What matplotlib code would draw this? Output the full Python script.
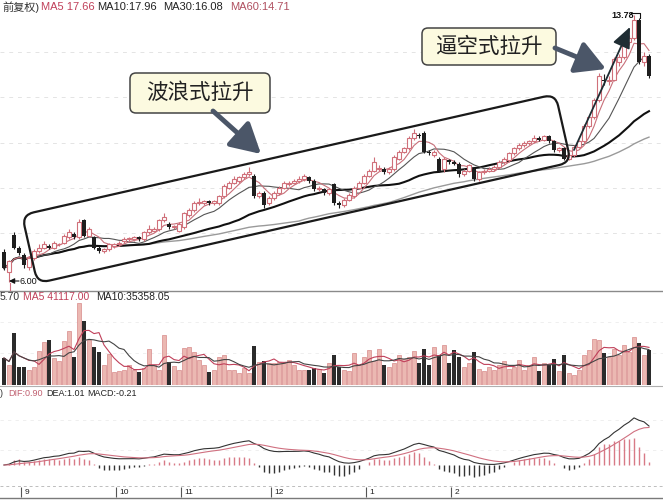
import numpy as np
import pandas as pd
import matplotlib
matplotlib.use("Agg")
import matplotlib.pyplot as plt
from matplotlib.patches import FancyBboxPatch
from matplotlib.transforms import Affine2D

plt.rcParams['font.family'] = ['Liberation Sans', 'Noto Sans CJK SC', 'DejaVu Sans']

# ---------------- data ----------------
opens = [6.87, 6.30, 7.37, 7.00, 6.80, 6.45, 6.70, 6.90, 7.00, 7.05,
         7.00, 7.10, 7.15, 7.30, 7.40, 7.30, 7.80, 7.35, 7.30, 7.00,
         6.90, 6.95, 7.05, 7.10, 7.20, 7.25, 7.25, 7.30, 7.25, 7.45,
         7.50, 7.55, 7.80, 7.70, 7.60, 7.50, 7.60, 7.95, 8.10, 8.30,
         8.30, 8.35, 8.30, 8.30, 8.50, 8.75, 8.90, 8.95, 9.05, 9.15,
         9.10, 8.50, 8.60, 8.30, 8.45, 8.60, 8.75, 8.85, 8.90, 8.95,
         9.00, 9.05, 8.95, 8.70, 8.70, 8.60, 8.85, 8.30, 8.25, 8.40,
         8.50, 8.75, 8.90, 9.10, 9.25, 9.30, 9.30, 9.20, 9.30, 9.60,
         9.80, 9.90, 10.20, 10.30, 10.35, 9.80, 9.70, 9.60, 9.30, 9.55,
         9.50, 9.45, 9.15, 9.25, 9.30, 9.00, 9.20, 9.25, 9.30, 9.35,
         9.50, 9.55, 9.75, 9.90, 10.00, 10.05, 10.10, 10.20, 10.15, 10.25,
         10.10, 9.85, 9.90, 9.60, 9.70, 9.95, 10.10, 10.55, 10.80, 11.30,
         11.90, 11.85, 11.90, 12.40, 12.55, 13.00, 13.10, 13.65, 12.40, 12.60]
closes = [6.41, 6.60, 7.00, 6.85, 6.50, 6.70, 6.90, 7.00, 7.10, 7.00,
          7.15, 7.10, 7.35, 7.45, 7.30, 7.75, 7.35, 7.55, 7.00, 6.90,
          6.95, 7.10, 7.10, 7.15, 7.25, 7.25, 7.30, 7.25, 7.45, 7.55,
          7.55, 7.80, 7.90, 7.60, 7.60, 7.70, 8.00, 8.10, 8.30, 8.30,
          8.35, 8.30, 8.35, 8.50, 8.80, 8.90, 9.00, 9.05, 9.15, 9.20,
          8.50, 8.60, 8.25, 8.45, 8.60, 8.75, 8.90, 8.90, 8.95, 9.00,
          9.10, 8.95, 8.70, 8.75, 8.60, 8.70, 8.30, 8.25, 8.40, 8.55,
          8.75, 8.90, 9.10, 9.25, 9.50, 9.30, 9.20, 9.30, 9.65, 9.80,
          9.90, 10.20, 10.35, 10.25, 9.80, 9.75, 9.80, 9.25, 9.60, 9.50,
          9.45, 9.15, 9.25, 9.40, 9.00, 9.20, 9.25, 9.30, 9.35, 9.50,
          9.60, 9.75, 9.90, 10.00, 10.05, 10.10, 10.20, 10.15, 10.25, 10.10,
          9.85, 9.90, 9.60, 9.70, 9.95, 10.10, 10.55, 10.80, 11.30, 12.00,
          11.85, 11.90, 12.50, 12.55, 13.00, 13.10, 13.65, 12.40, 12.60, 12.00]
highs = [6.95, 6.65, 7.45, 7.05, 6.85, 6.75, 6.95, 7.10, 7.20, 7.10,
         7.20, 7.15, 7.40, 7.55, 7.45, 7.85, 7.85, 7.60, 7.35, 7.05,
         7.00, 7.15, 7.15, 7.20, 7.30, 7.30, 7.35, 7.35, 7.50, 7.65,
         7.60, 7.85, 8.00, 7.75, 7.65, 7.75, 8.05, 8.15, 8.35, 8.45,
         8.40, 8.40, 8.40, 8.55, 8.85, 8.95, 9.10, 9.10, 9.20, 9.35,
         9.15, 8.65, 8.65, 8.50, 8.65, 8.80, 8.95, 8.95, 9.00, 9.10,
         9.15, 9.10, 9.00, 8.80, 8.75, 8.75, 8.90, 8.35, 8.45, 8.60,
         8.80, 8.95, 9.15, 9.30, 9.65, 9.40, 9.35, 9.35, 9.70, 9.85,
         9.95, 10.25, 10.45, 10.35, 10.40, 9.85, 9.85, 9.65, 9.65, 9.60,
         9.55, 9.50, 9.30, 9.45, 9.35, 9.25, 9.30, 9.35, 9.40, 9.55,
         9.65, 9.80, 9.95, 10.05, 10.10, 10.15, 10.30, 10.25, 10.30, 10.30,
         10.15, 9.95, 9.95, 9.75, 10.00, 10.15, 10.60, 10.85, 11.35, 12.10,
         12.05, 12.00, 12.55, 12.65, 13.05, 13.20, 13.78, 13.70, 12.70, 12.65]
lows = [6.35, 6.00, 6.95, 6.80, 6.40, 6.35, 6.65, 6.85, 6.95, 6.95,
        6.95, 7.05, 7.10, 7.25, 7.25, 7.25, 7.30, 7.30, 6.95, 6.85,
        6.85, 6.90, 7.00, 7.05, 7.15, 7.20, 7.20, 7.20, 7.20, 7.40,
        7.45, 7.50, 7.75, 7.55, 7.55, 7.45, 7.55, 7.90, 8.05, 8.25,
        8.25, 8.25, 8.25, 8.25, 8.45, 8.70, 8.85, 8.90, 9.00, 9.10,
        8.45, 8.45, 8.15, 8.25, 8.40, 8.55, 8.70, 8.80, 8.85, 8.90,
        8.95, 8.90, 8.65, 8.65, 8.55, 8.55, 8.25, 8.15, 8.20, 8.35,
        8.45, 8.70, 8.85, 9.05, 9.20, 9.25, 9.15, 9.15, 9.25, 9.55,
        9.75, 9.85, 10.15, 10.20, 9.75, 9.70, 9.65, 9.20, 9.20, 9.45,
        9.40, 9.05, 9.10, 9.20, 8.95, 8.95, 9.15, 9.20, 9.25, 9.30,
        9.45, 9.50, 9.70, 9.85, 9.95, 10.00, 10.05, 10.10, 10.10, 10.05,
        9.80, 9.80, 9.55, 9.55, 9.65, 9.90, 10.05, 10.50, 10.75, 11.25,
        11.75, 11.75, 11.85, 12.30, 12.50, 12.90, 13.05, 12.35, 12.30, 11.95]
volumes = [33800, 25000, 65000, 22500, 22500, 18800, 22500, 42500, 53800, 56300,
           33800, 30000, 55000, 67500, 35000, 102500, 80000, 56300, 47500, 41300,
           25000, 38800, 16300, 17500, 18800, 25000, 18800, 16300, 21300, 45000,
           25000, 18800, 62500, 28800, 23800, 18800, 46300, 47500, 41300, 31300,
           25000, 16300, 18800, 35000, 37500, 18800, 18800, 15000, 21300, 15000,
           48800, 28800, 30000, 27500, 27500, 28800, 27500, 31300, 25000, 18800,
           18800, 18800, 21300, 20000, 15000, 27500, 37500, 22500, 18800, 17500,
           40000, 25000, 35000, 43800, 30000, 45000, 25000, 22500, 27500, 37500,
           32500, 35000, 42500, 27500, 45000, 25000, 47500, 37500, 50000, 27500,
           43800, 35000, 22500, 27500, 41300, 20000, 17500, 22500, 18800, 25000,
           30000, 20000, 22500, 31300, 18800, 25000, 35000, 17500, 27500, 25000,
           32500, 17500, 37500, 15000, 12500, 18800, 37500, 43800, 57500, 56300,
           40000, 35000, 45000, 37500, 50000, 41300, 60000, 52500, 37500, 43800]
month_labels = ['9', '10', '11', '12', '1', '2']
month_starts = [3.5, 22.5, 35.5, 53.5, 72.5, 89.5]

price_header = [('前复权)', '#333333'), ('MA5 17.66', '#c0405a'), ('MA10:17.96', '#222222'),
                ('MA30:16.08', '#222222'), ('MA60:14.71', '#b05060')]
vol_header = [('5.70', '#333333'), ('MA5 41117.00', '#c0405a'), ('MA10:35358.05', '#222222')]
macd_header = [(')', '#333333'), ('DIF:0.90', '#c06070'), ('DEA:1.01', '#222222'), ('MACD:-0.21', '#222222')]
high_label = '13.78'
low_label = '6.00'
box1_text = '波浪式拉升'
box2_text = '逼空式拉升'

# ---------------- derived ----------------
o = np.array(opens); c = np.array(closes); hi = np.array(highs); lo = np.array(lows)
v = np.array(volumes)
idx = np.arange(len(c))
up = c >= o
cs = pd.Series(c)
ma5 = cs.rolling(5, min_periods=1).mean()
ma10 = cs.rolling(10, min_periods=1).mean()
ma30 = cs.rolling(30, min_periods=1).mean()
ma60 = cs.rolling(60, min_periods=1).mean()
vs = pd.Series(v)
vma5 = vs.rolling(5, min_periods=1).mean()
vma10 = vs.rolling(10, min_periods=1).mean()
dif = cs.ewm(span=12, adjust=False).mean() - cs.ewm(span=26, adjust=False).mean()
dea = dif.ewm(span=9, adjust=False).mean()
hist = 2 * (dif - dea)

UP = '#d0707a'
DN = '#1e1e1e'

W, H = 663, 500
fig = plt.figure(figsize=(W / 100, H / 100), dpi=100)
fig.patch.set_facecolor('white')

def rect_px(y0, y1):
    return [0, 1 - y1 / H, 1, (y1 - y0) / H]

XL = (-0.8, 131.8)

# background grid
bg = fig.add_axes([0, 0, 1, 1])
bg.set_xlim(0, W); bg.set_ylim(H, 0); bg.axis('off')
for y in [52, 97, 143, 188, 233]:
    bg.plot([0, W], [y, y], color='#e4e4e4', lw=0.7, ls=(0, (4, 5)))
for y in [322, 353, 420, 450]:
    bg.plot([0, W], [y, y], color='#ececec', lw=0.6, ls=(0, (4, 5)))
bg.plot([0, W], [291, 291], color='#8a8a8a', lw=1.0)
bg.plot([0, W], [386, 386], color='#b0b0b0', lw=0.8)
bg.plot([0, W], [486, 486], color='#bdbdbd', lw=0.7, ls=(0, (3, 3)))
bg.plot([0, W], [498, 498], color='#7a7a7a', lw=1.0)

# price panel
axp = fig.add_axes(rect_px(0, 290))
axp.set_facecolor('none')
axp.set_xlim(*XL)
axp.set_ylim(6 + (282 - 290) / 34.3, 6 + 282 / 34.3)
axp.axis('off')
axp.plot(idx, ma60, color='#9a9a9a', lw=1.0, zorder=2)
axp.plot(idx, ma30, color='#111111', lw=1.5, zorder=2)
axp.plot(idx, ma10, color='#555555', lw=0.8, zorder=2)
axp.plot(idx, ma5, color='#c8707a', lw=0.8, zorder=2)
axp.vlines(idx[up], lo[up], hi[up], color=UP, lw=0.8, zorder=3)
axp.vlines(idx[~up], lo[~up], hi[~up], color=DN, lw=0.8, zorder=3)
body = np.where(np.abs(c - o) < 0.02, 0.02, c - o)
axp.bar(idx[up], body[up], bottom=o[up], width=0.62, facecolor='white', edgecolor=UP, lw=0.8, zorder=4)
axp.bar(idx[~up], body[~up], bottom=o[~up], width=0.62, color=DN, zorder=4)

# volume panel
axv = fig.add_axes(rect_px(290, 385))
axv.set_facecolor('none')
axv.set_xlim(*XL); axv.set_ylim(0, 118750); axv.axis('off')
axv.bar(idx[up], v[up], width=0.72, facecolor='#ebb8b2', edgecolor='#d88a8a', lw=0.5, zorder=2)
axv.bar(idx[~up], v[~up], width=0.72, color='#2b2b2b', zorder=2)
axv.plot(idx, vma5, color='#c0405a', lw=0.8, zorder=3)
axv.plot(idx, vma10, color='#444444', lw=0.8, zorder=3)

# MACD panel
axm = fig.add_axes(rect_px(386, 486))
axm.set_facecolor('none')
axm.set_xlim(*XL); axm.set_ylim(-21 / 52, 79 / 52); axm.axis('off')
pos = hist.values >= 0
axm.vlines(idx[pos], 0, hist.values[pos], color='#d87a86', lw=1.0)
axm.vlines(idx[~pos], 0, hist.values[~pos], color='#333333', lw=1.0)
axm.plot(idx, dif, color='#333333', lw=0.8)
axm.plot(idx, dea, color='#d07080', lw=0.8)

# date strip
axd = fig.add_axes(rect_px(486, 498))
axd.set_facecolor('none')
axd.set_xlim(*XL); axd.set_ylim(0, 1); axd.axis('off')
for m, s in zip(month_labels, month_starts):
    axd.vlines(s, 0.1, 0.95, color='#555555', lw=0.8)
    axd.text(s + 0.6, 0.5, m, fontsize=6, color='#222222', va='center', ha='left')

# overlay annotations
ov = fig.add_axes([0, 0, 1, 1])
ov.set_xlim(0, W); ov.set_ylim(H, 0); ov.axis('off')

for (txt, col), xx in zip(price_header, [2, 41, 97, 163, 230]):
    ov.text(xx, 7, txt, fontsize=8, color=col, va='center', ha='left')
for (txt, col), xx in zip(vol_header, [0, 23, 96]):
    ov.text(xx, 297, txt, fontsize=7.5, color=col, va='center', ha='left')
for (txt, col), xx in zip(macd_header, [0, 8, 46, 87]):
    ov.text(xx, 394, txt, fontsize=6.5, color=col, va='center', ha='left')

# rotated rounded channel box
tr = Affine2D().rotate_deg(-12.77).translate(22, 215) + ov.transData
ov.add_patch(FancyBboxPatch((0, 0), 547, 70, boxstyle='round,pad=0,rounding_size=12',
                            fill=False, ec='#1a1a1a', lw=1.6, transform=tr))

# label boxes
ov.add_patch(FancyBboxPatch((130, 73), 140, 40, boxstyle='round,pad=0,rounding_size=6',
                            fc='#fcfae0', ec='#444444', lw=1.1))
ov.text(200, 93, box1_text, fontsize=15.5, color='#222222', ha='center', va='center',
        family=['Noto Sans CJK SC'])
ov.add_patch(FancyBboxPatch((422, 28), 134, 37, boxstyle='round,pad=0,rounding_size=6',
                            fc='#fcfae0', ec='#444444', lw=1.1))
ov.text(489, 46.5, box2_text, fontsize=15.5, color='#222222', ha='center', va='center',
        family=['Noto Sans CJK SC'])

# slate arrows
ap = dict(arrowstyle='-|>,head_length=0.9,head_width=0.5', lw=3.5, color='#4b5668',
          mutation_scale=20, shrinkA=0, shrinkB=0)
ov.annotate('', xy=(261, 154), xytext=(213, 111), arrowprops=ap)
ov.annotate('', xy=(606, 69), xytext=(555, 48), arrowprops=ap)

# thin rise arrow
ov.annotate('', xy=(630, 27), xytext=(574, 150),
            arrowprops=dict(arrowstyle='-|>,head_length=0.8,head_width=0.35', lw=1.3,
                            color='#1f2d33', mutation_scale=16, shrinkA=0, shrinkB=0))

# high / low marks
ov.text(611, 15, high_label, fontsize=6.5, color='#111111', ha='left', va='center', fontweight='bold')
ov.plot([631, 640, 640], [13, 13, 18], color='#111111', lw=0.8)
ov.text(19, 281, low_label, fontsize=6.5, color='#111111', ha='left', va='center')
ov.annotate('', xy=(9, 281), xytext=(19, 281),
            arrowprops=dict(arrowstyle='-|>,head_length=0.4,head_width=0.2', lw=0.8,
                            color='#111111', mutation_scale=8, shrinkA=0, shrinkB=0))
ov.plot([10, 10], [283, 290], color='#d07080', lw=0.8)

fig.savefig('out.png', dpi=100)
